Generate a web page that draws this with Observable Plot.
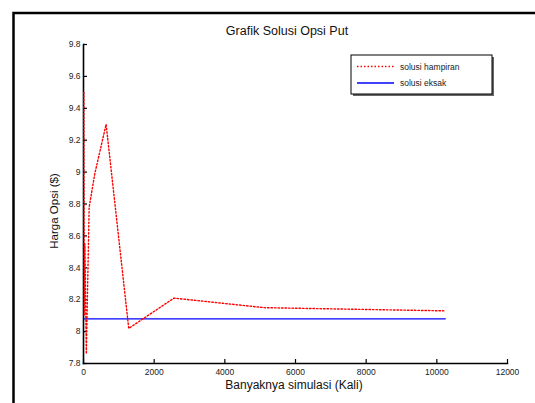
<!DOCTYPE html>
<html>
<head>
<meta charset="utf-8">
<script src="https://cdn.jsdelivr.net/npm/d3@7"></script>
<script src="https://cdn.jsdelivr.net/npm/@observablehq/plot@0.6"></script>
<style>
  html, body { margin: 0; padding: 0; background: #fff; }
  #chart { width: 535px; height: 403px; }
  svg { font-family: "Liberation Sans", Arial, sans-serif; }
</style>
</head>
<body>
<div id="chart"></div>
<script>
// Simulation counts (x) and approximate option prices (y)
const simulations = [10, 20, 40, 80, 160, 320, 640, 1280, 2560, 5120, 10240];
const approxPrice = [9.50, 8.10, 8.55, 7.86, 8.78, 8.99, 9.30, 8.02, 8.21, 8.15, 8.13];
const exactPrice = 8.08;
const xTicks = [0, 2000, 4000, 6000, 8000, 10000, 12000];
const yTicks = [7.8, 8, 8.2, 8.4, 8.6, 8.8, 9, 9.2, 9.4, 9.6, 9.8];
const seriesNames = ["solusi hampiran", "solusi eksak"];
const titleText = "Grafik Solusi Opsi Put";
const xLabel = "Banyaknya simulasi (Kali)";
const yLabel = "Harga Opsi ($)";

const approx = simulations.map((n, i) => ({n, v: approxPrice[i]}));
const exact = simulations.map(n => ({n, v: exactPrice}));

const W = 535, H = 403;
const mL = 83, mR = 28, mT = 44, mB = 40;

const chart = Plot.plot({
  width: W, height: H,
  marginLeft: mL, marginRight: mR, marginTop: mT, marginBottom: mB,
  style: {fontFamily: "Liberation Sans, Arial, sans-serif", fontSize: "8.5px", color: "#222", background: "#fff"},
  x: {domain: [0, 12000], ticks: xTicks, label: null},
  y: {domain: [7.8, 9.8], ticks: yTicks, label: null},
  marks: [
    Plot.axisX({ticks: xTicks, tickSize: -4, tickPadding: 9, tickFormat: d => String(d), stroke: "#000", strokeWidth: 1.2, label: null}),
    Plot.axisY({ticks: yTicks, tickSize: -4, tickPadding: 7, tickFormat: d => String(+d.toFixed(1)), stroke: "#000", strokeWidth: 1.2, label: null}),
    Plot.frame({anchor: "left", stroke: "#000", strokeWidth: 1.6}),
    Plot.frame({anchor: "bottom", stroke: "#000", strokeWidth: 1.6}),
    Plot.line(exact, {x: "n", y: "v", stroke: "#0000ff", strokeWidth: 1.3}),
    Plot.line(approx, {x: "n", y: "v", stroke: "#ff0000", strokeWidth: 1.4, strokeDasharray: "1.5,2"})
  ]
});

document.getElementById("chart").appendChild(chart);

const svg = d3.select(chart);
// figure border (top and left edges visible)
svg.append("path")
  .attr("d", `M13.5,${H} L13.5,13 L${W},13`)
  .attr("fill", "none").attr("stroke", "#000").attr("stroke-width", 2.5);

// title
svg.append("text").attr("x", 287).attr("y", 35).attr("text-anchor", "middle")
  .attr("font-size", 12.5).attr("fill", "#111").text(titleText);
// x label
svg.append("text").attr("x", 294).attr("y", 389).attr("text-anchor", "middle")
  .attr("font-size", 12).attr("fill", "#111").text(xLabel);
// y label
svg.append("text").attr("transform", "translate(58,211) rotate(-90)").attr("text-anchor", "middle")
  .attr("font-size", 11.5).attr("fill", "#111").text(yLabel);

// legend
const lg = svg.append("g");
lg.append("rect").attr("x", 353).attr("y", 57).attr("width", 141).attr("height", 39).attr("fill", "#666");
lg.append("rect").attr("x", 351).attr("y", 55).attr("width", 141).attr("height", 39)
  .attr("fill", "#fff").attr("stroke", "#000").attr("stroke-width", 1);
const styles = [{stroke: "#ff0000", dash: "1.5,2", w: 1.3}, {stroke: "#0000ff", dash: null, w: 1.3}];
seriesNames.forEach((name, i) => {
  const y = 66.5 + i * 16.5;
  const ln = lg.append("line").attr("x1", 357).attr("x2", 394).attr("y1", y).attr("y2", y)
    .attr("stroke", styles[i].stroke).attr("stroke-width", styles[i].w);
  if (styles[i].dash) ln.attr("stroke-dasharray", styles[i].dash);
  lg.append("text").attr("x", 400).attr("y", y + 3).attr("text-anchor", "start")
    .attr("font-size", 8.5).attr("fill", "#222").text(name);
});
</script>
</body>
</html>
